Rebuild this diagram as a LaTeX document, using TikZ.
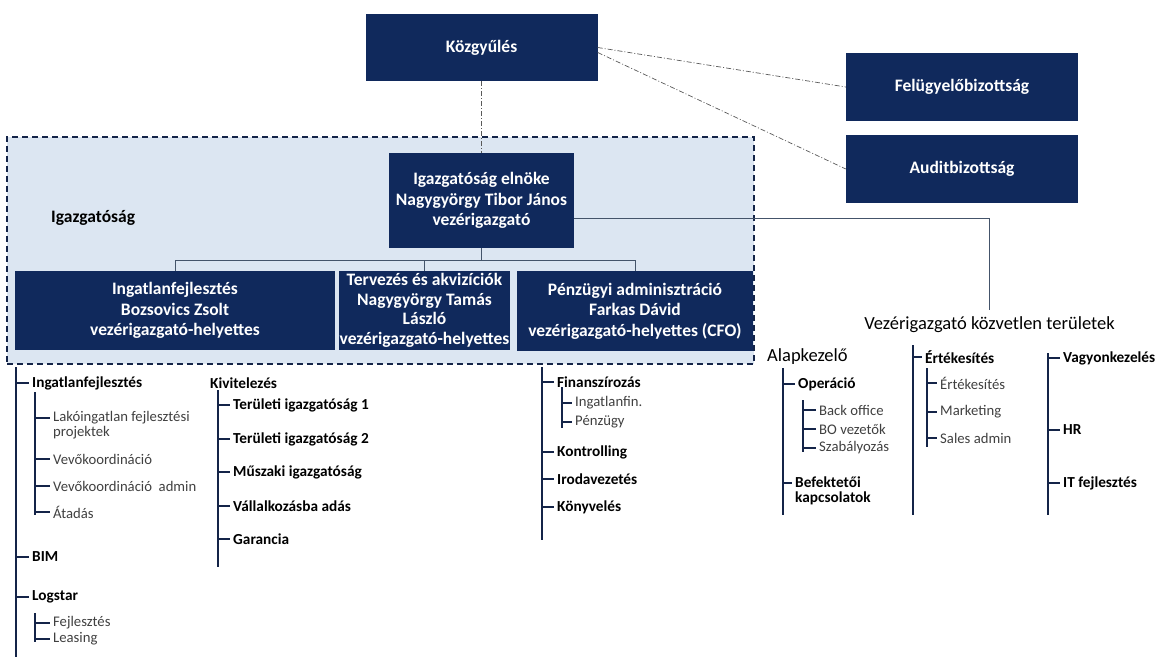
\documentclass[tikz,border=0pt]{standalone}
\usepackage{fontspec}
\setmainfont{Carlito}
\usepackage{tikz}

\definecolor{boxblue}{RGB}{16,41,92}
\definecolor{boardbg}{RGB}{220,230,242}
\definecolor{wire}{RGB}{68,84,106}
\definecolor{stemc}{RGB}{20,36,72}
\definecolor{txtgray}{RGB}{64,64,64}

\newcommand{\boxfont}{\bfseries\fontsize{17.5}{20.5}\selectfont}
\newcommand{\tightbox}{\bfseries\fontsize{17.5}{19.5}\selectfont}
\newcommand{\unitfont}{\bfseries\fontsize{15.3}{15}\selectfont}
\newcommand{\subfont}{\fontsize{14.7}{15}\selectfont}
\newcommand{\headfont}{\fontsize{18.5}{20}\selectfont}

\begin{document}
\begin{tikzpicture}[x=1pt,y=-1pt,
                    box/.style={fill=boxblue,text=white,font=\boxfont,align=center,inner sep=0pt},
                    board/.style={fill=boardbg,draw=stemc,line width=1.5pt,dash pattern=on 6pt off 4pt},
                    chain/.style={draw=wire,line width=0.8pt},
                    dashdot/.style={draw=gray!70!black,line width=0.7pt,dash pattern=on 5pt off 2pt on 1pt off 2pt},
                    stem/.style={draw=stemc,line width=2pt},
                    tick/.style={draw=stemc,line width=1.7pt,shorten >=3pt},
                    head/.style={font=\headfont,anchor=west,inner sep=0pt},
                    unit/.style={font=\unitfont,anchor=west,inner sep=0pt,align=left},
                    sub/.style={font=\subfont,text=txtgray,anchor=west,inner sep=0pt,align=left}]

  \useasboundingbox (0,0) rectangle (1156,658);

  % board of directors
  \node[board,minimum width=747pt,minimum height=227pt] (igazg) at (380.5,250.5) {};
  \node[font=\boxfont,anchor=west,inner sep=0pt] (igazglabel) at (51,218) {Igazgatóság};

  \node[box,minimum width=232pt,minimum height=67pt] (kozgy)  at (481.5,47.5) {Közgyűlés};
  \node[box,minimum width=232pt,minimum height=68pt] (felugy) at (962,87)     {Felügyelőbizottság};
  \node[box,minimum width=232pt,minimum height=68pt] (audit)  at (962,169)    {Auditbizottság};

  \node[box,minimum width=185pt,minimum height=95pt] (elnoke) at (481.5,200.5)
        {Igazgatóság elnöke\\Nagygyörgy Tibor János\\vezérigazgató};
  \node[box,minimum width=320pt,minimum height=79pt] (ingf)   at (175,310.5)
        {Ingatlanfejlesztés\\Bozsovics Zsolt\\vezérigazgató-helyettes};
  \node[box,font=\tightbox,minimum width=171pt,minimum height=79pt] (terv) at (424.5,310.5)
        {Tervezés és akvizíciók\\Nagygyörgy Tamás\\László\\vezérigazgató-helyettes};
  \node[box,minimum width=236pt,minimum height=80pt] (penz)   at (635,311)
        {Pénzügyi adminisztráció\\Farkas Dávid\\vezérigazgató-helyettes (CFO)};

  \node[head,anchor=center,inner ysep=7pt] (vkt) at (989.5,325) {Vezérigazgató közvetlen területek};

  \draw[dashdot] (kozgy.south) -- (elnoke.north);
  \draw[dashdot] (kozgy.east) -- (felugy.west);
  \draw[dashdot] ([yshift=-5pt]kozgy.east) -- (audit.west);

  \draw[chain] (elnoke.south) -- ++(0,12) coordinate (bus);
  \draw[chain] (ingf.north) |- (bus);
  \draw[chain] (terv.north) |- (bus);
  \draw[chain] (penz.north) |- (bus);
  \draw[chain] ([yshift=-18pt]elnoke.east) -| (vkt.north);

  % Ingatlanfejlesztes
  \coordinate (ia) at (16,367);  \coordinate (ia end) at (16,657);
  \draw[stem] (ia) -- (ia end);
  \node[unit] (ifj)  at (32,383) {Ingatlanfejlesztés};
  \node[unit] (bim)  at (32,557) {BIM};
  \node[unit] (logs) at (32,597) {Logstar};
  \draw[tick] (ia |- ifj.west) -- (ifj.west);
  \draw[tick] (ia |- bim.west) -- (bim.west);
  \draw[tick] (ia |- logs.west) -- (logs.west);

  \coordinate (ib) at (35,392);  \coordinate (ib end) at (35,515);
  \draw[stem] (ib) -- (ib end);
  \node[sub] (lako)  at (53,425.5) {Lakóingatlan fejlesztési\\projektek};
  \node[sub] (vevo)  at (53,459)   {Vevőkoordináció};
  \node[sub] (vevoa) at (53,486)   {Vevőkoordináció\ \ admin};
  \node[sub] (atad)  at (53,512)   {Átadás};
  \draw[tick] (ib |- lako.west) ++(0,-7.5) -- ([yshift=7.5pt]lako.west);
  \draw[tick] (ib |- vevo.west) -- (vevo.west);
  \draw[tick] (ib |- vevoa.west) -- (vevoa.west);
  \draw[tick] (ib |- atad.west) -- (atad.west);

  \coordinate (ic) at (35,613);  \coordinate (ic end) at (35,642);
  \draw[stem] (ic) -- (ic end);
  \node[sub] (fejl) at (53,623) {Fejlesztés};
  \node[sub] (leas) at (53,639) {Leasing};
  \draw[tick] (ic |- fejl.west) -- (fejl.west);
  \draw[tick] (ic |- leas.west) -- (leas.west);

  % Kivitelezes
  \node[unit] (kivit) at (210,383) {Kivitelezés};
  \coordinate (ka) at (218,390);  \coordinate (ka end) at (218,567);
  \draw[stem] (ka) -- (ka end);
  \node[unit] (ter1) at (233,405) {Területi igazgatóság 1};
  \node[unit] (ter2) at (233,439) {Területi igazgatóság 2};
  \node[unit] (musz) at (233,472) {Műszaki igazgatóság};
  \node[unit] (vall) at (233,506) {Vállalkozásba adás};
  \node[unit] (gara) at (233,539) {Garancia};
  \draw[tick] (ka |- ter1.west) -- (ter1.west);
  \draw[tick] (ka |- ter2.west) -- (ter2.west);
  \draw[tick] (ka |- musz.west) -- (musz.west);
  \draw[tick] (ka |- vall.west) -- (vall.west);
  \draw[tick] (ka |- gara.west) -- (gara.west);

  % Penzugy
  \coordinate (pa) at (542,367);  \coordinate (pa end) at (542,540);
  \draw[stem] (pa) -- (pa end);
  \node[unit] (finan) at (557,382) {Finanszírozás};
  \node[unit] (kontr) at (557,452) {Kontrolling};
  \node[unit] (iroda) at (557,479) {Irodavezetés};
  \node[unit] (konyv) at (557,507) {Könyvelés};
  \draw[tick] (pa |- finan.west) -- (finan.west);
  \draw[tick] (pa |- kontr.west) -- (kontr.west);
  \draw[tick] (pa |- iroda.west) -- (iroda.west);
  \draw[tick] (pa |- konyv.west) -- (konyv.west);

  \coordinate (pb) at (562,387);  \coordinate (pb end) at (562,428);
  \draw[stem] (pb) -- (pb end);
  \node[sub] (infin) at (575,403) {Ingatlanfin.};
  \node[sub] (penzu) at (575,422) {Pénzügy};
  \draw[tick] (pb |- infin.west) -- (infin.west);
  \draw[tick] (pb |- penzu.west) -- (penzu.west);

  % Alapkezelo
  \node[head] (alap) at (767,357) {Alapkezelő};
  \coordinate (aa) at (783,368);  \coordinate (aa end) at (783,515);
  \draw[stem] (aa) -- (aa end);
  \node[unit] (oper) at (798,384)   {Operáció};
  \node[unit] (befk) at (795,490.5) {Befektetői\\kapcsolatok};
  \draw[tick] (aa |- oper.west) -- (oper.west);
  \draw[tick] (aa |- befk.west) ++(0,-7.5) -- ([yshift=7.5pt]befk.west);

  \coordinate (ab) at (803,400);  \coordinate (ab end) at (803,452);
  \draw[stem] (ab) -- (ab end);
  \node[sub] (back) at (819,410) {Back office};
  \node[sub] (bove) at (819,429) {BO vezetők};
  \node[sub] (szab) at (819,448) {Szabályozás};
  \draw[tick] (ab |- back.west) -- (back.west);
  \draw[tick] (ab |- bove.west) -- (bove.west);
  \draw[tick] (ab |- szab.west) -- (szab.west);

  % Ertekesites
  \coordinate (ea) at (913,345);  \coordinate (ea end) at (913,515);
  \draw[stem] (ea) -- (ea end);
  \node[unit] (ertk) at (925,357) {Értékesítés};
  \draw[tick] (ea |- ertk.west) -- (ertk.west);

  \coordinate (eb) at (927,368);  \coordinate (eb end) at (927,447);
  \draw[stem] (eb) -- (eb end);
  \node[sub] (ertks) at (940,383) {Értékesítés};
  \node[sub] (mark)  at (940,412) {Marketing};
  \node[sub] (sales) at (940,438) {Sales admin};
  \draw[tick] (eb |- ertks.west) -- (ertks.west);
  \draw[tick] (eb |- mark.west) -- (mark.west);
  \draw[tick] (eb |- sales.west) -- (sales.west);

  % Vagyonkezeles, HR, IT
  \coordinate (va) at (1048,353);  \coordinate (va end) at (1048,515);
  \draw[stem] (va) -- (va end);
  \node[unit] (vagy) at (1063,358) {Vagyonkezelés};
  \node[unit] (hr)   at (1063,430) {HR};
  \node[unit] (itfj) at (1063,483) {IT fejlesztés};
  \draw[tick] (va |- vagy.west) -- (vagy.west);
  \draw[tick] (va |- hr.west) -- (hr.west);
  \draw[tick] (va |- itfj.west) -- (itfj.west);

\end{tikzpicture}
\end{document}
